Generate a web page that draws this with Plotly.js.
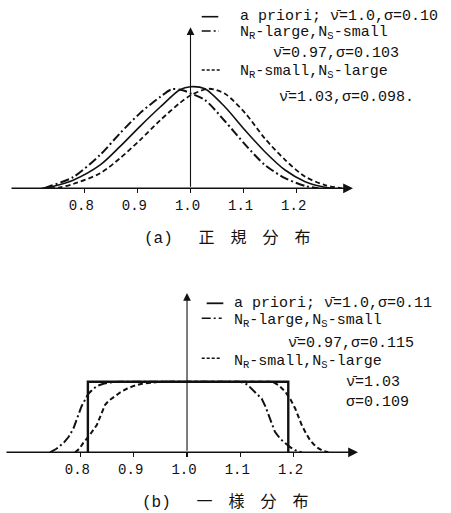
<!DOCTYPE html>
<html>
<head>
<meta charset="utf-8">
<script src="https://cdn.plot.ly/plotly-3.0.1.min.js"></script>
<style>html,body{margin:0;padding:0;background:#fff;}#chart{width:451px;height:513px;}</style>
</head>
<body>
<div id="chart"></div>
<script>
// ---------- data ----------
// (a) normal distribution, heights relative to a-priori peak
const aPrioriX_a = [0.72, 0.742, 0.779, 0.830, 0.867, 0.905, 0.943, 0.980, 1.000, 1.027, 1.065, 1.103, 1.140, 1.178, 1.216, 1.253, 1.269];
const aPrioriY_a = [0.0, 0.02, 0.08, 0.23, 0.41, 0.61, 0.80, 0.97, 1.00, 0.98, 0.80, 0.57, 0.36, 0.18, 0.065, 0.01, 0.0];
const rLargeX_a = [0.725, 0.735, 0.779, 0.830, 0.867, 0.905, 0.943, 0.965, 0.985, 1.000, 1.027, 1.065, 1.103, 1.140, 1.178, 1.216, 1.241];
const rLargeY_a = [0.0, 0.02, 0.11, 0.33, 0.54, 0.74, 0.90, 0.975, 0.965, 0.935, 0.87, 0.66, 0.43, 0.23, 0.10, 0.023, 0.0];
const sLargeX_a = [0.735, 0.754, 0.779, 0.830, 0.867, 0.905, 0.943, 0.980, 1.002, 1.035, 1.065, 1.103, 1.140, 1.178, 1.216, 1.253, 1.285];
const sLargeY_a = [0.0, 0.01, 0.042, 0.148, 0.295, 0.475, 0.67, 0.84, 0.92, 0.98, 0.93, 0.74, 0.49, 0.28, 0.114, 0.032, 0.0];

// (b) uniform distribution, heights relative to box height
const aPrioriX_b = [0.814, 0.814, 1.19, 1.19];
const aPrioriY_b = [0.0, 1.0, 1.0, 0.0];
const rLargeX_b = [0.743, 0.755, 0.768, 0.778, 0.787, 0.795, 0.802, 0.809, 0.815, 0.823, 0.831, 0.843, 0.857, 0.875,
                   1.100, 1.113, 1.121, 1.131, 1.140, 1.147, 1.153, 1.159, 1.165, 1.175, 1.184, 1.194, 1.203, 1.215];
const rLargeY_b = [0.0, 0.05, 0.13, 0.22, 0.34, 0.50, 0.65, 0.75, 0.83, 0.89, 0.94, 0.97, 0.99, 1.0,
                   1.0, 0.96, 0.90, 0.84, 0.76, 0.65, 0.53, 0.41, 0.29, 0.19, 0.13, 0.07, 0.03, 0.0];
const sLargeX_b = [0.790, 0.798, 0.805, 0.818, 0.831, 0.839, 0.846, 0.853, 0.862, 0.875, 0.887, 0.900, 0.915, 0.935, 0.950,
                   1.160, 1.172, 1.184, 1.194, 1.203, 1.209, 1.215, 1.223, 1.231, 1.238, 1.246, 1.255, 1.265];
const sLargeY_b = [0.0, 0.05, 0.13, 0.25, 0.39, 0.54, 0.67, 0.73, 0.78, 0.85, 0.90, 0.94, 0.97, 0.99, 1.0,
                   1.0, 0.95, 0.86, 0.75, 0.62, 0.50, 0.39, 0.27, 0.17, 0.11, 0.06, 0.02, 0.0];

const tickVals = [0.8, 0.9, 1.0, 1.1, 1.2];
const tickText = ['0.8', '0.9', '1.0', '1.1', '1.2'];

const legendA = [
  'a priori; \u03BD\u0304=1.0,\u03C3=0.10',
  'N<sub>R</sub>-large,N<sub>S</sub>-small',
  '\u03BD\u0304=0.97,\u03C3=0.103',
  'N<sub>R</sub>-small,N<sub>S</sub>-large',
  '\u03BD\u0304=1.03,\u03C3=0.098.'
];
const legendB = [
  'a priori; \u03BD\u0304=1.0,\u03C3=0.11',
  'N<sub>R</sub>-large,N<sub>S</sub>-small',
  '\u03BD\u0304=0.97,\u03C3=0.115',
  'N<sub>R</sub>-small,N<sub>S</sub>-large',
  '\u03BD\u0304=1.03<br>\u03C3=0.109'
];
const captionA = '(a)\u3000 正\u3000規\u3000分\u3000布';
const captionB = '(b)\u3000 一\u3000様\u3000分\u3000布';

// ---------- layout helpers ----------
const W = 451, H = 513;
const fx = p => p / W;
const fy = p => 1 - p / H;
const MONO = '"Liberation Mono", "DejaVu Sans Mono", monospace';
const INK = '#111';

const DASHDOT = '9px,3px,2px,3px';
const DASHED = '5px,3px';

const traces = [
  {x: aPrioriX_a, y: aPrioriY_a, xaxis: 'x', yaxis: 'y', mode: 'lines', line: {color: INK, width: 1.6, shape: 'spline', smoothing: 0.8}},
  {x: rLargeX_a, y: rLargeY_a, xaxis: 'x', yaxis: 'y', mode: 'lines', line: {color: INK, width: 2, dash: DASHDOT, shape: 'spline', smoothing: 0.8}},
  {x: sLargeX_a, y: sLargeY_a, xaxis: 'x', yaxis: 'y', mode: 'lines', line: {color: INK, width: 1.8, dash: DASHED, shape: 'spline', smoothing: 0.8}},
  {x: aPrioriX_b, y: aPrioriY_b, xaxis: 'x2', yaxis: 'y2', mode: 'lines', line: {color: INK, width: 2.4}},
  {x: rLargeX_b, y: rLargeY_b, xaxis: 'x2', yaxis: 'y2', mode: 'lines', line: {color: INK, width: 2, dash: DASHDOT}},
  {x: sLargeX_b, y: sLargeY_b, xaxis: 'x2', yaxis: 'y2', mode: 'lines', line: {color: INK, width: 2, dash: DASHED}}
];

const xAxisCommon = {
  tickvals: tickVals, ticktext: tickText,
  ticks: 'outside', ticklen: 4, tickwidth: 1.4, tickcolor: INK,
  tickfont: {family: MONO, size: 14, color: INK},
  ticklabelshift: -3,
  showgrid: false, zeroline: false, showline: false, fixedrange: true
};

// axis extents (decorative axis arrows)
const axA = {xmin: 0.6601, xmax: 1.306, ytop: 1.585};
const axB = {xmin: 0.6585, xmax: 1.3208, ytop: 2.256};

function arrow(xref, yref, x, y, ax, ay, w) {
  return {xref: xref, yref: yref, axref: xref, ayref: yref, x: x, y: y, ax: ax, ay: ay,
          text: '', showarrow: true, arrowhead: 2, arrowsize: 1.4, arrowwidth: w, arrowcolor: INK,
          standoff: 0, startstandoff: 0};
}
function label(text, px, py, size) {
  return {xref: 'paper', yref: 'paper', x: fx(px), y: fy(py), xanchor: 'left', yanchor: 'middle', align: 'left',
          text: text, showarrow: false, font: {family: MONO, size: size || 15, color: INK}, borderpad: 0};
}
function sample(x0, x1, py, dash, w) {
  return {type: 'line', xref: 'paper', yref: 'paper', x0: fx(x0), x1: fx(x1), y0: fy(py), y1: fy(py),
          line: {color: INK, width: w || 1.8, dash: dash || 'solid'}};
}

const annotations = [
  arrow('x', 'y', axA.xmax, 0, axA.xmin, 0, 1.4),
  arrow('x', 'y', 1.0, axA.ytop, 1.0, 0, 1.1),
  arrow('x2', 'y2', axB.xmax, 0, axB.xmin, 0, 1.4),
  arrow('x2', 'y2', 1.0, axB.ytop, 1.0, 0, 1.1),
  label(legendA[0], 239, 16.7),
  label(legendA[1], 239, 33),
  label(legendA[2], 272, 53.5),
  label(legendA[3], 239, 72),
  label(legendA[4], 278, 97.5),
  label(legendB[0], 233.3, 303.3),
  label(legendB[1], 233.3, 320.5),
  label(legendB[2], 286.7, 343),
  label(legendB[3], 233.3, 361.5),
  label(legendB[4], 345, 392.5),
  {xref: 'paper', yref: 'paper', x: fx(227), y: fy(238.5), xanchor: 'center', yanchor: 'middle',
   text: captionA, showarrow: false, font: {family: MONO + ', "Noto Sans CJK JP"', size: 16, color: INK}},
  {xref: 'paper', yref: 'paper', x: fx(225), y: fy(512.5), xanchor: 'center', yanchor: 'bottom',
   text: captionB, showarrow: false, font: {family: MONO + ', "Noto Sans CJK JP"', size: 16, color: INK}, borderpad: 0}
];

const shapes = [
  sample(201.7, 218.3, 16.7, 'solid', 1.6),
  sample(201.7, 219, 31, DASHDOT, 1.6),
  sample(201.7, 220, 70, '3px,2px', 1.4),
  sample(206.7, 223.3, 303.3, 'solid', 1.8),
  sample(201.7, 221.7, 318.3, DASHDOT, 1.6),
  sample(201.7, 221.7, 358.3, '3px,2px', 1.4)
];

const layout = {
  width: W, height: H,
  margin: {l: 0, r: 0, t: 0, b: 0, pad: 0},
  paper_bgcolor: '#fff', plot_bgcolor: 'rgba(0,0,0,0)',
  showlegend: false,
  xaxis: Object.assign({domain: [fx(10), fx(353)], range: [axA.xmin, axA.xmax], anchor: 'y'}, xAxisCommon),
  yaxis: {domain: [fy(188.3), fy(20)], range: [0, 1.6565], visible: false, fixedrange: true, anchor: 'x'},
  xaxis2: Object.assign({domain: [fx(5), fx(358)], range: [axB.xmin, axB.xmax], anchor: 'y2'}, xAxisCommon),
  yaxis2: {domain: [fy(452.3), fy(285)], range: [0, 2.3697], visible: false, fixedrange: true, anchor: 'x2'},
  annotations: annotations,
  shapes: shapes
};

Plotly.newPlot('chart', traces, layout, {displayModeBar: false, staticPlot: true});
</script>
</body>
</html>
